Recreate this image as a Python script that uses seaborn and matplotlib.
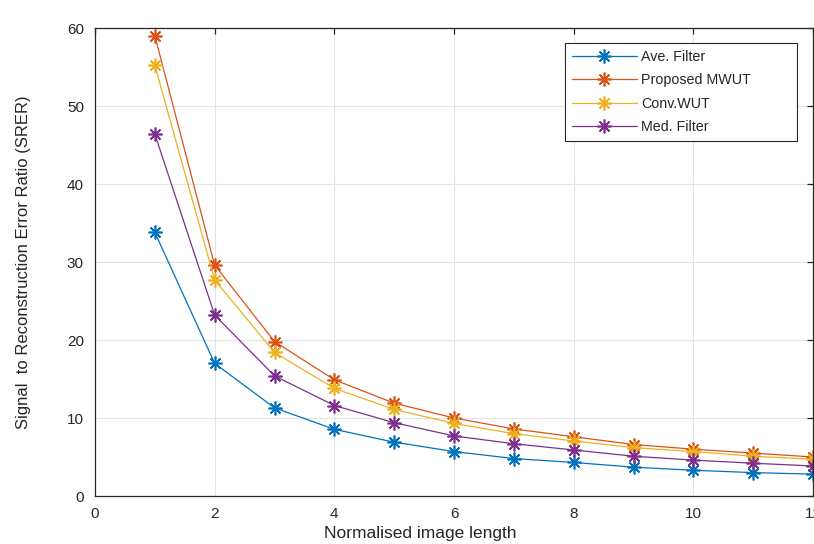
import matplotlib
matplotlib.use("Agg")
import matplotlib.pyplot as plt
import seaborn as sns
import pandas as pd

lengths = [1, 2, 3, 4, 5, 6, 7, 8, 9, 10, 11, 12]
ave_filter = [33.8, 17.0, 11.3, 8.55, 6.9, 5.7, 4.8, 4.3, 3.7, 3.3, 3.0, 2.8]
proposed_mwut = [59.0, 29.6, 19.8, 14.9, 11.9, 10.0, 8.6, 7.6, 6.6, 6.0, 5.5, 5.0]
conv_wut = [55.2, 27.7, 18.4, 13.8, 11.1, 9.3, 8.0, 7.05, 6.2, 5.7, 5.1, 4.7]
med_filter = [46.4, 23.2, 15.4, 11.6, 9.4, 7.7, 6.7, 5.9, 5.1, 4.6, 4.2, 3.85]

series_names = ["Ave. Filter", "Proposed MWUT", "Conv.WUT", "Med. Filter"]
series_values = [ave_filter, proposed_mwut, conv_wut, med_filter]
colors = ["#0072BD", "#D95319", "#EDB120", "#7E2F8E"]

x_ticks = [0, 2, 4, 6, 8, 10, 12]
y_ticks = [0, 10, 20, 30, 40, 50, 60]

sns.set_theme(style="white")
plt.rcParams["font.family"] = ["Liberation Sans", "DejaVu Sans"]

fig = plt.figure(figsize=(8.14, 5.44), dpi=100)
ax = fig.add_axes([95 / 814, 48 / 544, 718 / 814, 468 / 544])

rows = []
for name, vals in zip(series_names, series_values):
    for xv, yv in zip(lengths, vals):
        rows.append({"len": xv, "val": yv, "series": name})
df = pd.DataFrame(rows)

for name, col in zip(series_names, colors):
    sub = df[df["series"] == name]
    sns.lineplot(data=sub, x="len", y="val", ax=ax, color=col, linewidth=0.9,
                 marker=(8, 2, 0), markersize=10, markeredgewidth=1.2,
                 markeredgecolor=col, label=name, sort=False, clip_on=False)

ax.set_xlim(0, 12)
ax.set_ylim(0, 60)
ax.set_xticks(x_ticks)
ax.set_yticks(y_ticks)
ax.grid(True, color="#e3e3e3", linewidth=0.8)
ax.set_axisbelow(True)
for sp in ax.spines.values():
    sp.set_color("#262626")
    sp.set_linewidth(0.9)
    sp.set_visible(True)
ax.tick_params(direction="in", length=4, width=0.9, color="#262626",
               top=True, right=True, labelsize=11, labelcolor="#262626", pad=8)
ax.set_xlabel("Normalised image length", fontsize=12.5, color="#262626")
ax.xaxis.set_label_coords(325 / 718, -0.064)
ax.set_ylabel("Signal  to Reconstruction Error Ratio (SRER)", fontsize=12,
              color="#262626", labelpad=26)

leg = ax.legend(loc="upper left", bbox_to_anchor=(470 / 718, 0.7564, 232 / 718, 0.2115),
                mode="expand", borderaxespad=0,
                fancybox=False, framealpha=1, edgecolor="#262626", fontsize=10.3,
                handlelength=4.5, handletextpad=0.3, labelspacing=0.65,
                borderpad=0.5)
leg.get_frame().set_linewidth(0.8)

fig.savefig("out.png", dpi=100)
